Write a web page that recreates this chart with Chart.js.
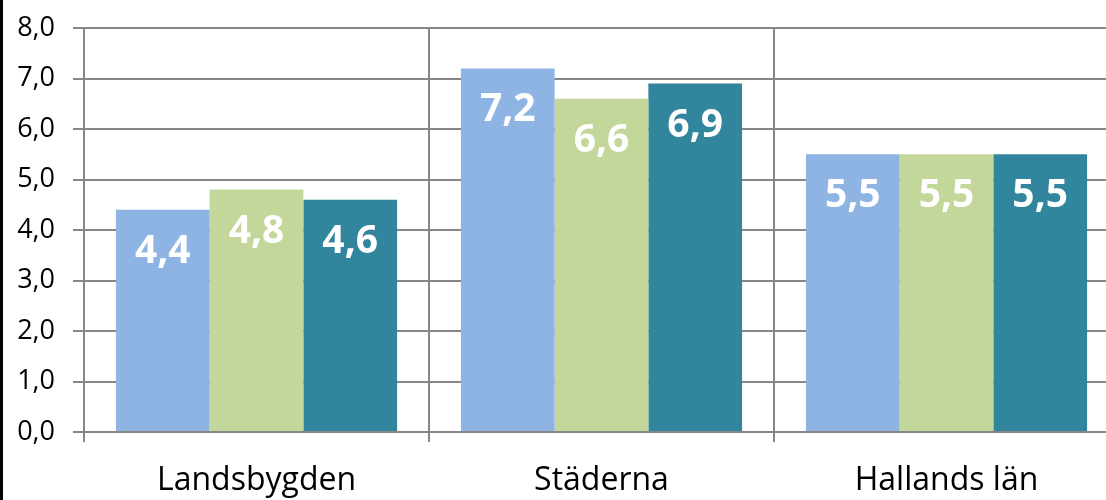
<!DOCTYPE html>
<html>
<head>
<meta charset="utf-8">
<script src="https://cdn.jsdelivr.net/npm/chart.js@4.4.0/dist/chart.umd.min.js"></script>
<style>
  html, body { margin: 0; padding: 0; background: #fff; overflow: hidden; }
  #wrap { position: relative; width: 1106px; height: 500px; overflow: hidden; }
  #edge { position: absolute; left: 0; top: 0; width: 3px; height: 500px; background: #000; }
  canvas { position: absolute; left: 0; top: 0; }
</style>
</head>
<body>
<div id="wrap">
  <canvas id="chart" width="1120" height="500"></canvas>
  <div id="edge"></div>
</div>
<script>
// data
const categories = ["Landsbygden", "Städerna", "Hallands län"];
const series1 = [4.4, 7.2, 5.5];
const series2 = [4.8, 6.6, 5.5];
const series3 = [4.6, 6.9, 5.5];
const yTickLabels = ["0,0", "1,0", "2,0", "3,0", "4,0", "5,0", "6,0", "7,0", "8,0"];

const gridGray = "#878787";
const fontFamily = "'Open Sans', 'Noto Sans', sans-serif";

// white value labels just inside the top of each bar
const valueLabels = {
  id: "valueLabels",
  afterDatasetsDraw(chart) {
    const ctx = chart.ctx;
    ctx.save();
    ctx.fillStyle = "#fff";
    ctx.font = "bold 39px " + fontFamily;
    ctx.textAlign = "center";
    ctx.textBaseline = "alphabetic";
    chart.data.datasets.forEach((ds, i) => {
      chart.getDatasetMeta(i).data.forEach((bar, j) => {
        const txt = ds.data[j].toFixed(1).replace(".", ",");
        ctx.fillText(txt, bar.x, bar.y + 53);
      });
    });
    ctx.restore();
  }
};

new Chart(document.getElementById("chart").getContext("2d"), {
  type: "bar",
  data: {
    labels: categories,
    datasets: [
      { label: "Serie 1", data: series1, backgroundColor: "#8EB4E3" },
      { label: "Serie 2", data: series2, backgroundColor: "#C4D79B" },
      { label: "Serie 3", data: series3, backgroundColor: "#31859C" },
    ],
  },
  options: {
    responsive: false,
    animation: false,
    devicePixelRatio: 1,
    layout: { padding: { top: 28, right: 1, bottom: 0, left: 0 } },
    plugins: {
      legend: { display: false },
      tooltip: { enabled: false },
      title: { display: false },
    },
    datasets: {
      bar: { categoryPercentage: 0.815, barPercentage: 1.0 },
    },
    scales: {
      x: {
        grid: { offset: true, color: gridGray, lineWidth: 2, tickLength: 10 },
        border: { color: gridGray, width: 2 },
        ticks: {
          color: "#000",
          padding: 20,
          font: { family: fontFamily, size: 32 },
          maxRotation: 0,
        },
        afterFit(scale) {
          scale.height = 68;
          scale.paddingLeft = 0;
          scale.paddingRight = 0;
        },
      },
      y: {
        min: 0,
        max: 8,
        grid: { color: gridGray, lineWidth: 2, tickLength: 11 },
        border: { color: gridGray, width: 2 },
        ticks: {
          stepSize: 1,
          color: "#000",
          padding: 18,
          font: { family: fontFamily, size: 27 },
          callback: (v, i) => yTickLabels[i],
        },
        afterFit(scale) {
          scale.width = 84;
          scale.paddingTop = 0;
          scale.paddingBottom = 0;
        },
      },
    },
  },
  plugins: [valueLabels],
});
</script>
</body>
</html>
